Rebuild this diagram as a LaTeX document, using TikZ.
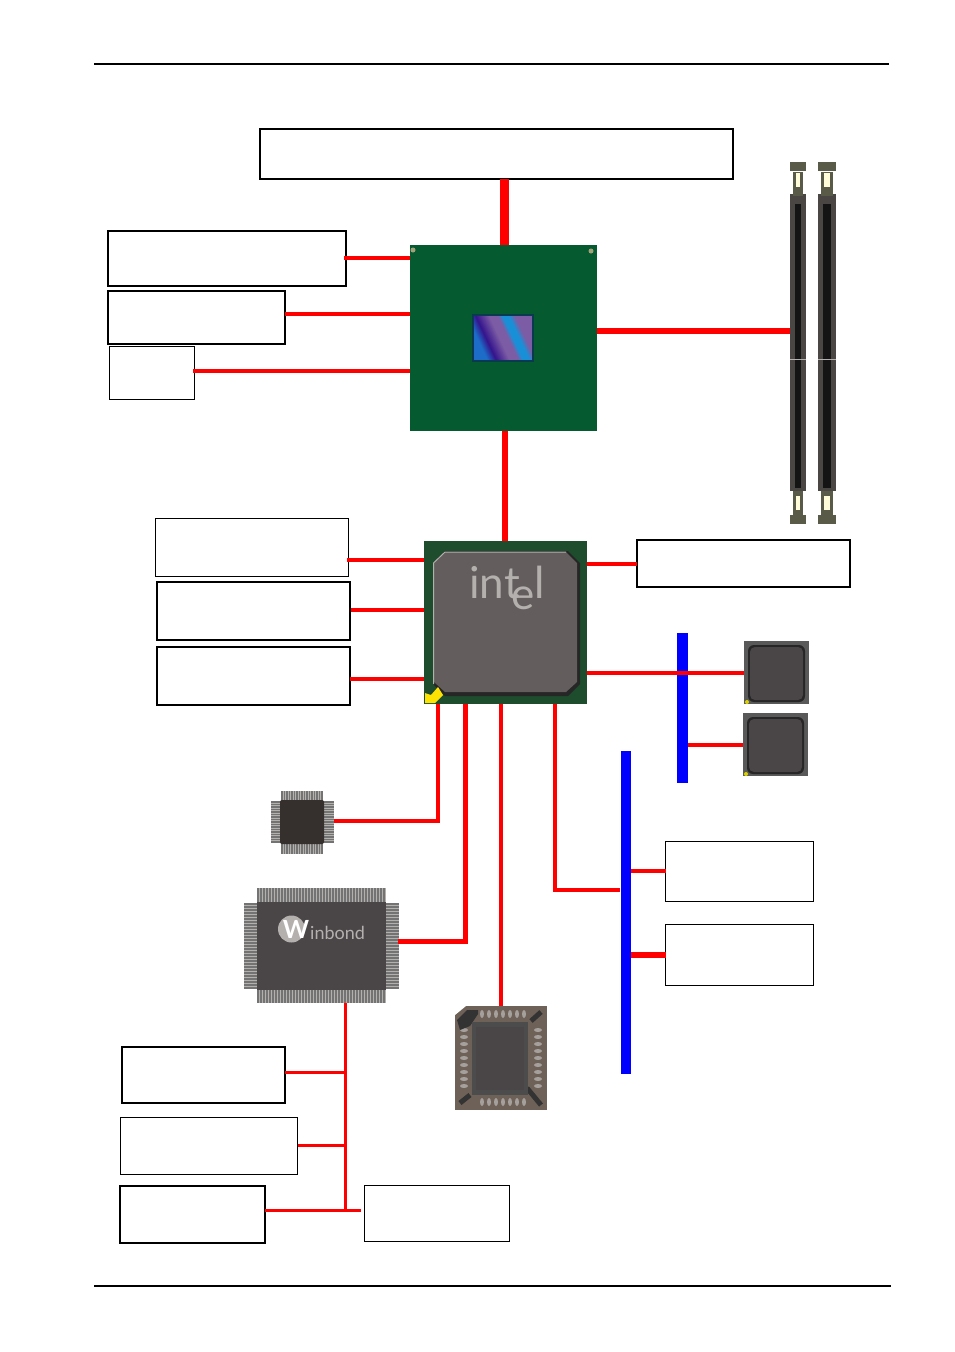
\documentclass[tikz,border=0pt]{standalone}
\usepackage{fontspec}
\setsansfont{Lato}
\definecolor{dieblue}{HTML}{1C6CC8}
\definecolor{diedark}{HTML}{34148C}
\definecolor{diepurple}{HTML}{7C5CA4}
\definecolor{diesky}{HTML}{1890D8}
\pgfdeclarehorizontalshading{diegrad}{100bp}{color(0bp)=(dieblue);color(29bp)=(dieblue);color(36bp)=(diedark);color(47bp)=(diepurple);color(54bp)=(diepurple);color(58bp)=(diesky);color(63bp)=(diesky);color(68bp)=(diepurple);color(100bp)=(diepurple)}
\definecolor{cpugreen}{HTML}{055A2F}
\definecolor{mchgreen}{HTML}{1D4D2C}
\definecolor{diegray}{HTML}{635D5E}
\definecolor{pingray}{HTML}{B4B0AE}
\definecolor{wbgray}{HTML}{4A4547}
\definecolor{sioblack}{HTML}{35302E}
\definecolor{plccbrown}{HTML}{6E6258}
\definecolor{dimmdark}{HTML}{4A4644}
\definecolor{clipolive}{HTML}{5A5A48}
\definecolor{dieedge}{HTML}{0A3A50}
\tikzset{
  labelbox/.style={draw=black,line width=2pt,fill=white,inner sep=0pt,outer sep=0pt,anchor=north west},
  thinbox/.style={labelbox,line width=1pt},
  chipnode/.style={inner sep=0pt,outer sep=0pt,anchor=north west},
  redbus/.style={draw=red,line width=4pt},
  redbar/.style={draw=red,line width=6pt},
  bluebus/.style={draw=blue,line width=10.5pt},
  pin/.style={draw=black!55,line width=1.1pt}
}
\begin{document}
\begin{tikzpicture}[x=1pt,y=-1pt]
\useasboundingbox (0,0) rectangle (954,1352);
% page rules
\coordinate (ruletl) at (94,64);
\coordinate (ruletr) at (889,64);
\coordinate (rulebl) at (94,1286);
\coordinate (rulebr) at (891,1286);
\draw[line width=2pt] (ruletl)--(ruletr);
\draw[line width=2pt] (rulebl)--(rulebr);
% label boxes
\node[labelbox,minimum width=473pt,minimum height=50pt] (fsb) at (260,129) {};
\node[labelbox,minimum width=238pt,minimum height=55pt] (agp) at (108,231) {};
\node[labelbox,minimum width=177pt,minimum height=53pt] (lvds) at (108,291) {};
\node[thinbox,minimum width=85pt,minimum height=53pt] (crt) at (109.5,346.5) {};
\node[thinbox,minimum width=193pt,minimum height=58pt] (usb) at (155.5,518.5) {};
\node[labelbox,minimum width=193pt,minimum height=58pt] (ide) at (157,582) {};
\node[labelbox,minimum width=193pt,minimum height=58pt] (sata) at (157,647) {};
\node[labelbox,minimum width=213pt,minimum height=47pt] (audio) at (637,540) {};
\node[thinbox,minimum width=148pt,minimum height=60pt] (slota) at (665.5,841.5) {};
\node[thinbox,minimum width=148pt,minimum height=61pt] (slotb) at (665.5,924.5) {};
\node[labelbox,minimum width=163pt,minimum height=56pt] (coma) at (122,1047) {};
\node[thinbox,minimum width=177pt,minimum height=57pt] (comb) at (120.5,1117.5) {};
\node[labelbox,minimum width=145pt,minimum height=57pt] (kbd) at (120,1186) {};
\node[thinbox,minimum width=145pt,minimum height=56pt] (lpt) at (364.5,1185.5) {};
% cpu
\node[chipnode,fill=cpugreen,minimum width=187pt,minimum height=186pt] (cpu) at (410,245) {};
\shade[shading=diegrad,shading angle=25] (473,315) rectangle (533,361);
\draw[draw=dieedge,line width=1.5pt] (473,315) rectangle (533,361);
\fill[pingray!70!olive] (413,250) circle (2.5);
\fill[pingray!70!olive] (591,251) circle (2.5);
% north bridge
\node[chipnode,fill=mchgreen,minimum width=163pt,minimum height=163pt] (mch) at (424,541) {};
\fill[black!85] (445,551)--(568,551)--(580,563)--(580,684)--(568,696)--(445,696)--(433,684)--(433,563)--cycle;
\fill[diegray] (445,552)--(566,552)--(577,563)--(577,682)--(566,692)--(445,692)--(434,682)--(434,563)--cycle;
\draw[pingray,line width=1pt] (433.5,684)--(433.5,563)--(445,552)--(566,552);
\fill[yellow!85!orange] (425,693)--(431,695)--(438,687)--(443,695)--(435,703)--(425,703)--cycle;
\node[inner sep=0pt,anchor=base west,text=pingray,font=\sffamily\fontsize{44}{44}\selectfont] (intl) at (469,598) {int};
\node[inner sep=0pt,anchor=base west,text=pingray,font=\sffamily\fontsize{44}{44}\selectfont] (intr) at (534,598) {l};
\node[inner sep=0pt,anchor=base west,text=pingray,font=\sffamily\fontsize{44}{44}\selectfont] (inte) at (511,609) {e};
% dimm sockets
\foreach \n/\x/\w in {dimma/790/16,dimmb/818/18}{
  \node[chipnode,fill=dimmdark,minimum width=\w pt,minimum height=362pt] (\n) at (\x,162) {};
  \fill[white] (\x,170) rectangle ++(\w,24);
  \fill[white] (\x,491) rectangle ++(\w,24);
  \fill[clipolive] (\x,162) rectangle ++(\w,9);
  \fill[clipolive] (\x,515) rectangle ++(\w,9);
  \fill[clipolive] (\x+3,172) rectangle ++(\w-6,24);
  \fill[clipolive] (\x+3,491) rectangle ++(\w-6,24);
  \fill[white!85!yellow] (\x+6,173) rectangle ++(\w-12,14);
  \fill[white!85!yellow] (\x+6,496) rectangle ++(\w-12,14);
  \fill[black!92] (\x+5,204) rectangle ++(\w-10,284);
  \fill[pingray] (\x,359) rectangle ++(\w,1);
}
% memory down
\node[chipnode,fill=black!65,minimum width=65pt,minimum height=63pt] (mema) at (744,641) {};
\fill[black!85,rounded corners=6pt] (748,645) rectangle (805,702);
\fill[wbgray,rounded corners=5pt] (750,647) rectangle (803,700);
\fill[yellow!70!olive] (747,702) circle (2);
\node[chipnode,fill=black!65,minimum width=65pt,minimum height=63pt] (memb) at (743,713) {};
\fill[black!85,rounded corners=6pt] (747,717) rectangle (804,774);
\fill[wbgray,rounded corners=5pt] (749,719) rectangle (802,772);
\fill[yellow!70!olive] (746,774) circle (2);
% small chip
\fill[pingray] (281,791) rectangle (323,854);
\fill[pingray] (271,801) rectangle (334,843);
\foreach \p in {0,...,16}{
  \draw[pin] (282+2.5*\p,791)--(282+2.5*\p,801);
  \draw[pin] (282+2.5*\p,843)--(282+2.5*\p,854);
  \draw[pin] (271,802+2.5*\p)--(281,802+2.5*\p);
  \draw[pin] (323,802+2.5*\p)--(334,802+2.5*\p);
}
\node[chipnode,fill=sioblack,rounded corners=2pt,minimum width=44pt,minimum height=44pt] (sio) at (280,800) {};
% winbond chip
\fill[pingray] (257,888) rectangle (386,1003);
\fill[pingray] (244,903) rectangle (399,987);
\foreach \p in {0,...,42}{
  \draw[pin] (258+3*\p,888)--(258+3*\p,902);
  \draw[pin] (258+3*\p,990)--(258+3*\p,1003);
}
\foreach \p in {0,...,28}{
  \draw[pin] (244,904+3*\p)--(257,904+3*\p);
  \draw[pin] (386,904+3*\p)--(399,904+3*\p);
}
\node[chipnode,fill=wbgray,minimum width=129pt,minimum height=88pt] (wb) at (257,902) {};
\node[circle,fill=pingray,minimum size=27pt,inner sep=0pt] (wblogo) at (291.5,929) {};
\node[inner sep=0pt,text=white,font=\sffamily\bfseries\fontsize{25}{25}\selectfont] (wbw) at (296,929) {W};
\node[inner sep=0pt,anchor=base west,text=pingray,font=\sffamily\fontsize{18}{18}\selectfont] (wbtext) at (310,939) {inbond};
% plcc chip
\node[chipnode,fill=plccbrown,minimum width=92pt,minimum height=104pt] (plcc) at (455,1006) {};
\fill[white] (455,1006)--(466,1006)--(455,1015)--cycle;
\foreach \p in {0,...,6}{
  \fill[pingray!80!plccbrown] (482+7*\p,1014) ellipse (2 and 4);
  \fill[pingray!80!plccbrown] (482+7*\p,1102) ellipse (2 and 4);
}
\foreach \p in {0,...,8}{
  \fill[pingray!80!plccbrown] (464,1030+7*\p) ellipse (4 and 2);
  \fill[pingray!80!plccbrown] (538,1030+7*\p) ellipse (4 and 2);
}
\fill[black!80] (457,1020)--(467,1010)--(478,1010)--(478,1014)--(470,1026)--(460,1030)--cycle;
\draw[black!80,line width=5pt] (531,1021)--(541,1012);
\draw[black!80,line width=5pt] (470,1095)--(460,1103);
\draw[black!80,line width=5pt] (527,1088)--(541,1105);
\fill[black!70] (472,1022) rectangle (528,1095);
\fill[wbgray] (476,1027) rectangle (524,1090);
% buses
\coordinate (bluetopa) at (682.5,633);
\coordinate (blueenda) at (682.5,783);
\coordinate (bluetopb) at (626,751);
\coordinate (blueendb) at (626,1074);
\draw[bluebus] (bluetopa)--(blueenda);
\draw[bluebus] (bluetopb)--(blueendb);
% connectors cpu
\coordinate (fsbtap) at (504,179);
\draw[red,line width=9pt] (fsbtap)--(cpu.north -| fsbtap);
\coordinate (agptap) at (344,258);
\draw[redbus] (agptap)--(cpu.west |- agptap);
\coordinate (lvdstap) at (285,314);
\draw[redbus] (lvdstap)--(cpu.west |- lvdstap);
\coordinate (crttap) at (193,371);
\draw[redbus] (crttap)--(cpu.west |- crttap);
\coordinate (memtap) at (597,331);
\draw[redbar] (memtap)--(dimma.west |- memtap);
\coordinate (hubtap) at (505,431);
\draw[redbar] (hubtap)--(mch.north -| hubtap);
% connectors mch
\coordinate (usbtap) at (347,560);
\draw[redbus] (usbtap)--(mch.west |- usbtap);
\coordinate (idetap) at (351,610);
\draw[redbus] (idetap)--(mch.west |- idetap);
\coordinate (satatap) at (350,679);
\draw[redbus] (satatap)--(mch.west |- satatap);
\coordinate (audiotap) at (587,564);
\draw[redbus] (audiotap)--(audio.west |- audiotap);
\coordinate (lantap) at (587,673);
\draw[redbus] (lantap)--(mema.west |- lantap);
\coordinate (lanstub) at (688,745);
\draw[redbus] (lanstub)--(memb.west |- lanstub);
\coordinate (sioport) at (437.5,704);
\coordinate (siotap) at (334,821);
\draw[redbus] (sioport) |- (siotap);
\coordinate (wbport) at (465,704);
\coordinate (wbtap) at (398,941);
\draw[red,line width=5pt] (wbport) |- (wbtap);
\coordinate (plccport) at (501,704);
\draw[redbus] (plccport)--(plcc.north -| plccport);
\coordinate (pciport) at (554.5,704);
\coordinate (pcitap) at (620,890);
\draw[redbus] (pciport) |- (pcitap);
\coordinate (slotatap) at (631,871);
\draw[redbus] (slotatap)--(slota.west |- slotatap);
\coordinate (slotbtap) at (631,955);
\draw[redbar] (slotbtap)--(slotb.west |- slotbtap);
% connectors winbond
\coordinate (wbport) at (345,1003);
\coordinate (wbend) at (345,1210);
\draw[red,line width=3pt] (wbport)--(wbend);
\coordinate (cbtap) at (345,1145);
\coordinate (catap) at (345,1072);
\draw[red,line width=3pt] (catap)--(coma.east |- catap);
\draw[red,line width=3pt] (cbtap)--(comb.east |- cbtap);
\coordinate (lptend) at (361,1210);
\draw[red,line width=3pt] (kbd.east |- lptend)--(lptend);
\end{tikzpicture}
\end{document}
